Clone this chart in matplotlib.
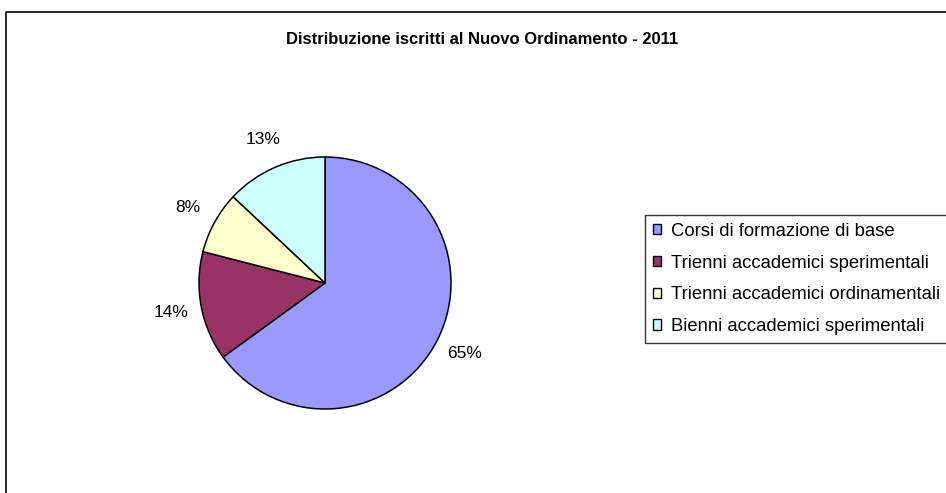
import matplotlib
matplotlib.use("Agg")
import matplotlib.pyplot as plt
from matplotlib.patches import Patch

plt.rcParams['font.family'] = ['Liberation Sans', 'DejaVu Sans']

# data
title = "Distribuzione iscritti al Nuovo Ordinamento - 2011"
categorie = ["Corsi di formazione di base",
             "Trienni accademici sperimentali",
             "Trienni accademici ordinamentali",
             "Bienni accademici sperimentali"]
percentuali = [65, 14, 8, 13]
colori = ["#9999FF", "#993366", "#FFFFCC", "#CCFFFF"]

W, H = 946, 493
fig = plt.figure(figsize=(W / 100, H / 100), dpi=100)

# outer chart border (runs off the right and bottom edges)
fig.add_artist(plt.Line2D([6 / W, 6 / W, 1.0], [0.0, 1 - 12 / H, 1 - 12 / H],
                          transform=fig.transFigure, color="black", lw=1.2))

fig.text(482 / W, 1 - 40 / H, title, ha="center", va="center",
         fontsize=12, fontweight="bold")

# pie: centre (325, 283), radius 126 px
cx, cy, r = 325, 283, 126
ax = fig.add_axes([(cx - r) / W, 1 - (cy + r) / H, 2 * r / W, 2 * r / H])
wedges, _, autotexts = ax.pie(percentuali, colors=colori, startangle=90,
                              counterclock=False, autopct="%1.0f%%",
                              pctdistance=1.24,
                              wedgeprops=dict(edgecolor="black", linewidth=1.1),
                              textprops=dict(fontsize=12.5))
ax.set_xlim(-1, 1)
ax.set_ylim(-1, 1)
ax.set_aspect("auto")
ax.axis("off")

handles = [Patch(facecolor=c, edgecolor="black", linewidth=1) for c in colori]
leg = fig.legend(handles, categorie, loc="upper left",
                 bbox_to_anchor=(645 / W, 1 - 215 / H),
                 bbox_transform=fig.transFigure, borderaxespad=0,
                 fontsize=13.3, frameon=True, fancybox=False, shadow=False,
                 handlelength=0.47, handleheight=0.47, handletextpad=0.5,
                 labelspacing=0.8, borderpad=0.42)
leg.get_frame().set_edgecolor("black")
leg.get_frame().set_linewidth(1)

fig.savefig("out.png", dpi=100)
